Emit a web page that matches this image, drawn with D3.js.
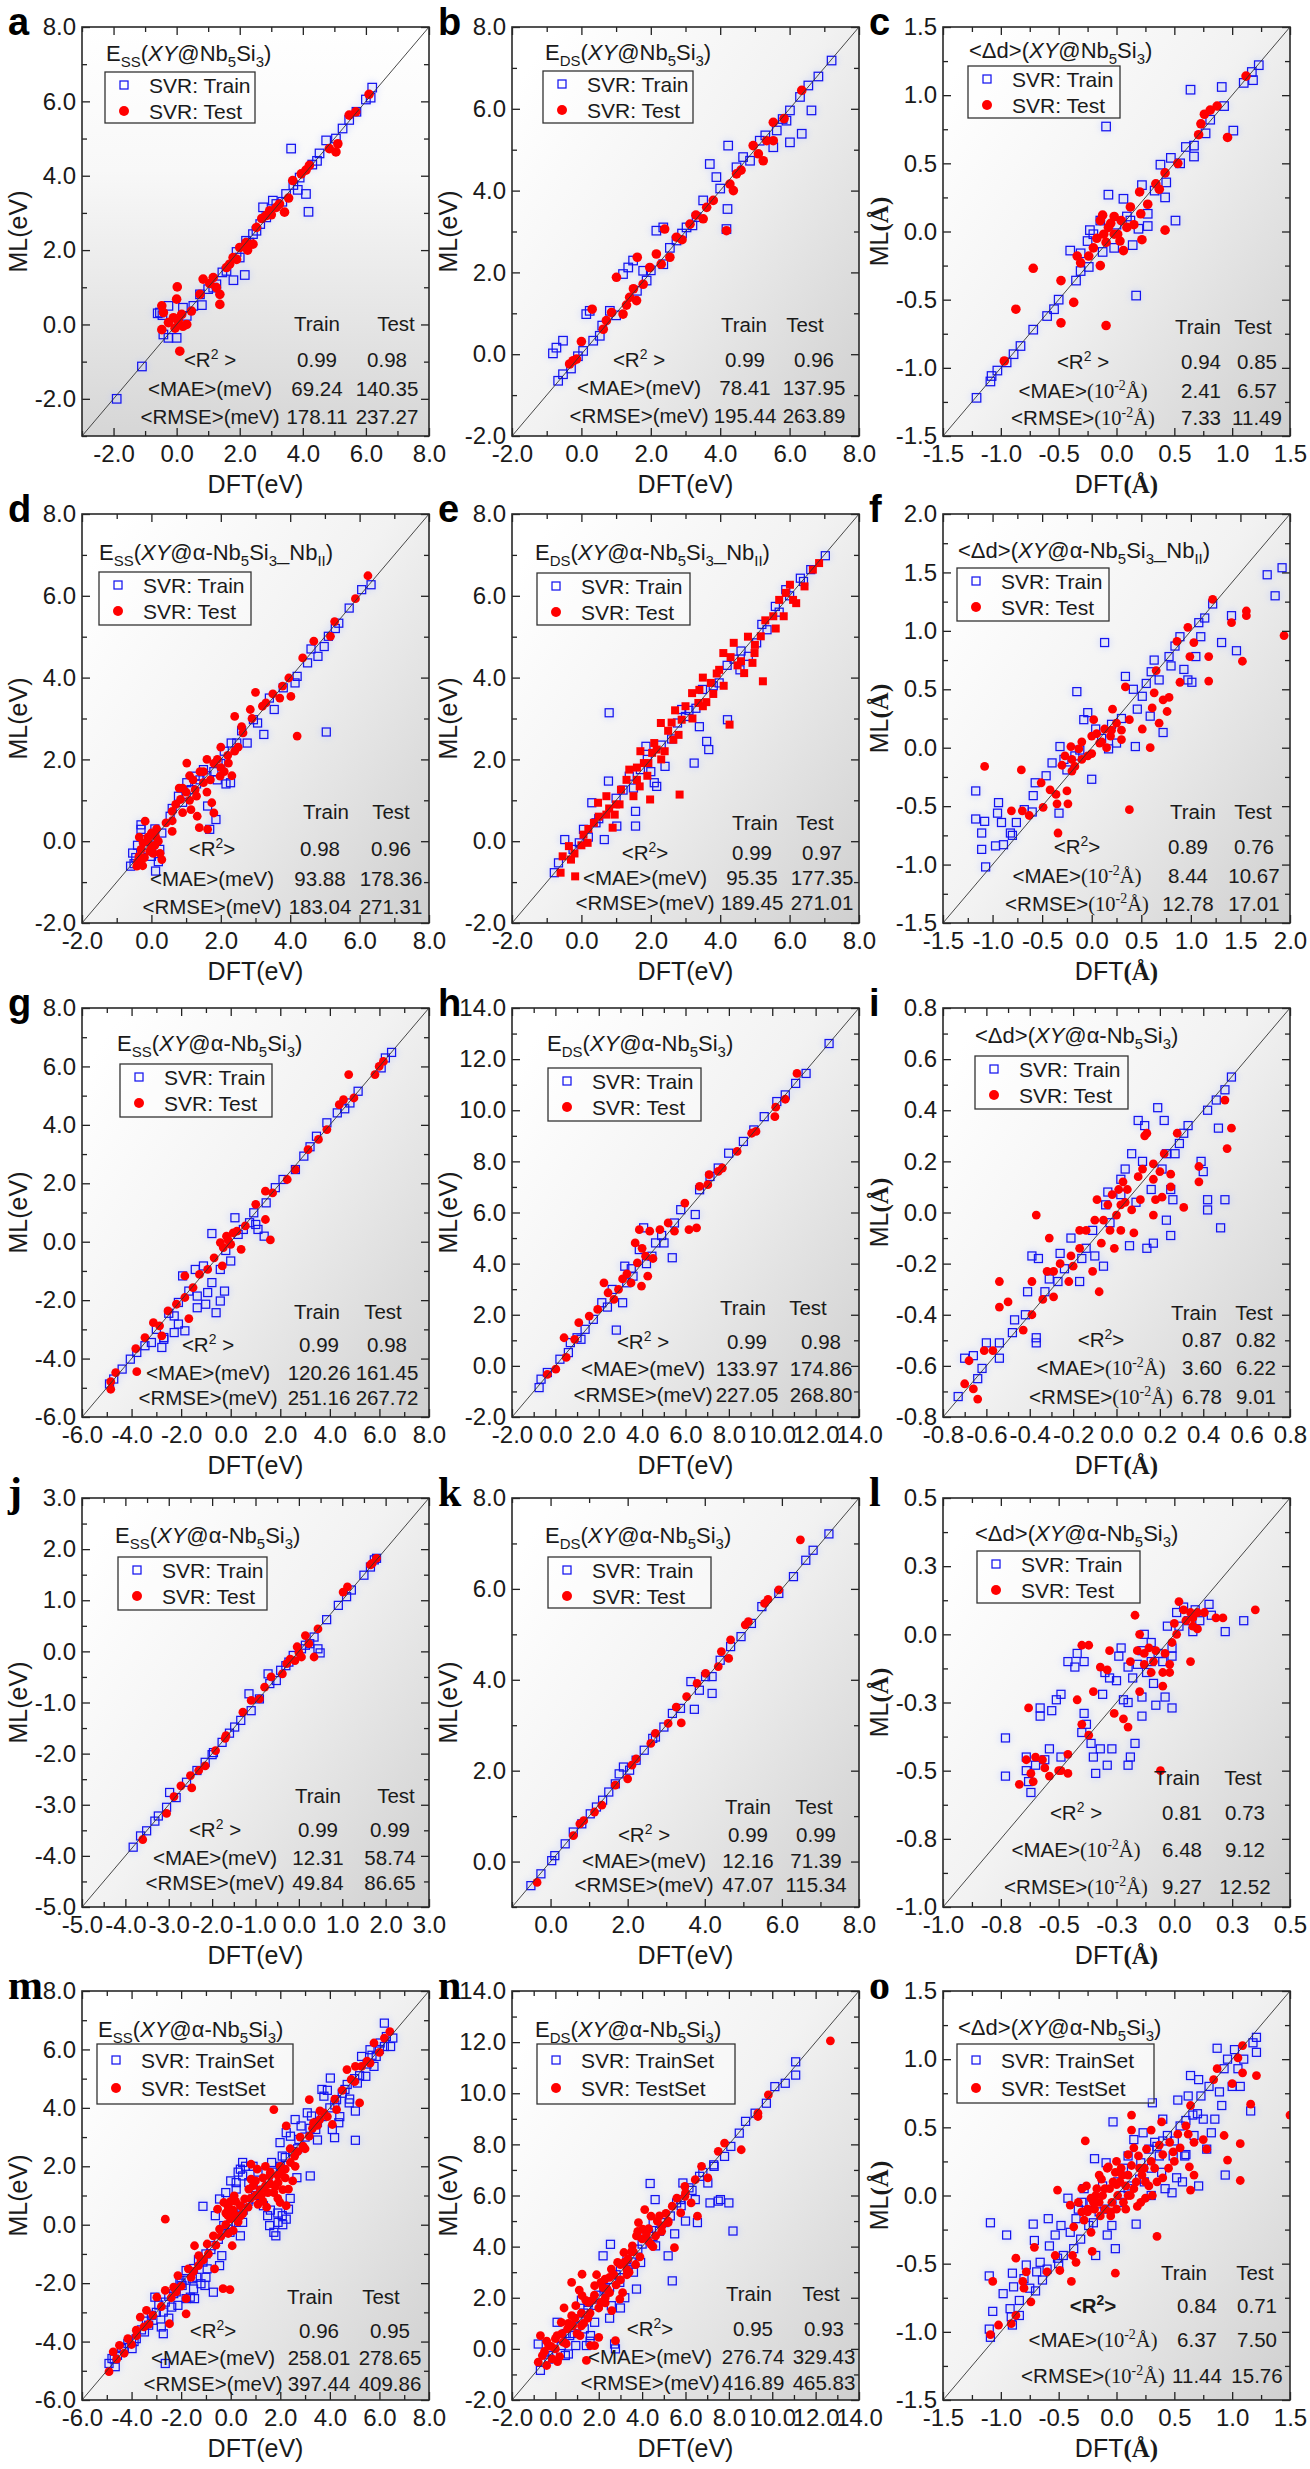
<!DOCTYPE html>
<html><head><meta charset="utf-8">
<script src="https://cdn.jsdelivr.net/npm/d3@7"></script>
<style>body{margin:0;background:#fff}</style>
</head><body><svg id="c" width="1310" height="2469"></svg>
<script>
// ---------------- DATA ----------------
const aTrain=[[-1.9,-2.0],[-1.1,-1.13],[-0.26,-0.36],[0,-0.36],[-0.53,0.32],[-0.26,0.5],[0.2,0.45],[0.8,0.52],[0.53,0.5],[1.8,1.19],[2.16,1.33],[1.16,0.99],[2.74,3.15],[3.63,4.73],[4.1,3.51],[4.18,3.03],[3.84,3.62],[6.2,6.37],[6.0,6.05],[5.26,5.27],[5.47,5.5],[4.74,4.95],[4.53,4.6],[4.3,4.3],[1.26,1.08],[1.58,1.44],[2.0,1.8],[2.42,2.43],[2.84,2.88],[3.16,3.24],[3.47,3.51],[2.2,2.25],[2.53,2.52],[3.05,3.33],[0.74,0.81],[0.32,0.23],[-0.42,-0.27],[-0.6,0.3],[-0.45,0.25],[1.0,0.95],[1.45,1.4],[1.9,1.95],[2.3,2.2],[2.65,2.7],[3.35,3.3],[3.7,3.75],[3.9,3.95],[4.45,4.4],[5.05,5.0],[5.7,5.72],[6.15,6.1]];
const aTest=[[-0.47,-0.14],[-0.47,0.5],[-0.42,0.32],[0.02,1.01],[0,0.68],[0.1,-0.72],[-0.26,0.05],[-0.1,0.18],[0.16,0.27],[0.32,0],[0.47,0.36],[0.74,0.81],[0.84,1.22],[1.16,1.26],[1.37,0.81],[1.37,0.54],[1.26,0.99],[1.68,1.62],[1.79,1.8],[2.0,2.07],[2.42,2.16],[2.53,2.61],[2.84,2.93],[3.16,3.15],[3.42,3.02],[3.26,3.24],[3.68,3.87],[3.95,4.05],[4.21,4.28],[4.84,4.73],[5.11,4.86],[5.05,4.64],[5.47,5.63],[5.68,5.72],[6.1,6.19],[2.2,2.2],[2.95,3.06],[1.58,1.53],[-0.05,-0.1],[0.05,0.1],[0.2,-0.05],[1.05,1.1],[1.9,1.75],[2.25,2.0],[2.7,2.85],[3.0,2.95],[3.55,3.4],[4.1,4.15]];
const aStats=["0.99","0.98","69.24","140.35","178.11","237.27"];

const bTrain=[[-0.82,0.02],[-0.72,0.16],[-0.53,0.33],[-0.67,-0.65],[-0.53,-0.49],[0.05,0.08],[0.14,0.98],[0.24,1.06],[0.34,0.33],[0.53,0.45],[0.82,1.06],[1.2,1.96],[1.35,2.12],[1.49,2.29],[1.78,2.04],[2.16,3.02],[2.36,3.1],[2.74,2.78],[3.03,3.1],[3.32,3.35],[3.51,3.76],[3.7,4.65],[3.89,4.33],[4.23,5.1],[4.21,3.55],[4.18,3.06],[4.66,4.82],[5.14,5.22],[5.53,5.06],[5.63,5.47],[6.01,5.18],[5.91,5.71],[6.01,5.96],[6.35,5.39],[6.63,5.96],[6.3,6.29],[6.54,6.57],[6.83,6.79],[7.21,7.18],[4.47,4.57],[4.86,4.73],[1.88,1.8],[2.36,2.2],[-0.3,-0.35],[-0.1,-0.05],[0.6,0.7],[1.0,0.95],[1.6,1.55],[2.0,2.05],[2.55,2.6],[2.9,2.95],[3.2,3.15],[4.0,4.05],[5.3,5.35],[5.8,5.75]];
const bTest=[[-0.34,-0.24],[-0.24,-0.16],[-0.14,-0.12],[0,0.31],[0.31,1.1],[0.63,0.61],[0.72,0.82],[0.87,1.02],[1.01,1.88],[1.2,0.98],[1.39,1.39],[1.59,1.31],[1.61,2.37],[1.78,1.71],[1.97,2.12],[2.16,2.45],[2.4,3.06],[2.55,2.37],[2.74,2.86],[3.13,3.18],[3.51,3.31],[3.61,3.59],[3.8,3.76],[4.18,3.02],[4.28,4.16],[4.38,4.0],[4.47,4.41],[4.95,5.1],[5.24,4.73],[5.34,5.22],[5.53,5.22],[5.53,5.67],[5.84,5.76],[6.35,6.45],[1.3,1.2],[1.5,1.6],[2.3,2.2],[2.9,2.8],[3.3,3.4],[4.6,4.5],[5.1,4.9]];
const bStats=["0.99","0.96","78.41","137.95","195.44","263.89"];

const cTrain=[[-1.21,-1.22],[-1.09,-1.1],[-1.08,-1.06],[-1.03,-1.02],[-0.89,-0.9],[-0.83,-0.84],[-0.72,-0.72],[-0.54,-0.57],[-0.5,-0.5],[-0.35,-0.36],[-0.31,-0.29],[-0.24,-0.26],[-0.4,-0.14],[-0.31,-0.16],[-0.25,-0.07],[-0.23,0.01],[-0.07,0.27],[0.06,0.24],[-0.09,0.77],[-0.02,-0.12],[0.14,-0.1],[0.17,-0.47],[0.19,0.02],[0.27,0.04],[0.27,0.13],[0.22,0.34],[0.42,0.25],[0.43,0.36],[0.51,0.08],[0.38,0.49],[0.47,0.54],[0.6,0.62],[0.67,0.55],[0.67,0.63],[0.77,0.72],[0.81,0.82],[0.93,0.92],[0.64,1.04],[0.91,1.06],[1.01,0.74],[1.1,1.09],[1.18,1.11],[1.17,1.17],[1.23,1.22],[-0.2,-0.02],[-0.14,0.08],[0.09,0.11],[-0.95,-0.96],[-0.6,-0.62],[-0.12,-0.15],[0.0,0.05],[0.12,0.08],[0.33,0.3],[0.55,0.5]];
const cTest=[[-0.97,-0.95],[-0.87,-0.57],[-0.72,-0.27],[-0.48,-0.36],[-0.37,-0.52],[-0.48,-0.67],[-0.09,-0.69],[-0.34,-0.18],[-0.31,-0.23],[-0.24,-0.18],[-0.2,-0.12],[-0.14,-0.25],[-0.14,0.08],[-0.11,-0.02],[-0.07,0.03],[-0.02,0.11],[0.01,-0.02],[0.06,-0.14],[0.09,0.03],[0.12,0.18],[0.21,0.13],[0.22,-0.06],[0.2,0.29],[0.27,0.2],[0.34,0.35],[0.37,0.31],[0.42,0.01],[0.42,0.43],[0.53,0.5],[0.71,0.71],[0.73,0.79],[0.76,0.86],[0.81,0.89],[0.87,0.92],[0.96,0.69],[1.12,1.14],[-0.02,-0.02],[0.03,-0.07],[-0.09,-0.08],[-0.05,0.06],[0.04,0.08],[-0.17,-0.05],[0.15,0.05],[-0.12,0.12]];
const cStats=["0.94","0.85","2.41","6.57","7.33","11.49"];

const dTrain=[[-0.6,-0.61],[-0.54,-0.29],[-0.3,0.29],[0,-0.37],[0.12,-0.73],[0.24,-0.2],[0.3,0.2],[0.54,0.61],[0.78,1.1],[1.02,1.43],[1.26,1.59],[1.5,1.75],[1.62,0.86],[1.86,0.53],[1.68,0.29],[1.92,1.91],[2.28,1.43],[2.46,2.4],[2.76,2.4],[3.24,2.61],[3.06,2.89],[3.54,3.22],[4.14,3.87],[4.2,4.03],[5.04,2.67],[4.98,4.76],[5.1,5.01],[5.4,5.33],[5.7,5.7],[6.06,6.15],[6.33,6.27],[4.8,4.52],[4.5,4.36],[2.94,2.97],[1.14,1.26],[-0.18,0.04],[-0.45,-0.4],[-0.1,-0.2],[0.9,0.95],[1.4,1.5],[1.8,1.7],[2.1,2.2],[2.6,2.7],[3.4,3.5],[3.8,3.75],[4.6,4.7],[5.3,5.2],
 [-0.5,-0.55],[-0.4,-0.1],[-0.2,-0.1],[0.05,0.1],[0.2,-0.5],[-0.3,0.4],[0.1,0.3],[0.6,0.8],[1.0,1.1],[1.3,1.4],[1.6,1.6],[2.0,1.9],[2.3,2.4],[1.9,1.5],[2.15,1.4]];
const dTest=[[-0.42,-0.61],[-0.36,-0.37],[-0.24,-0.04],[-0.18,0.49],[0,-0.16],[0.12,0.12],[0.3,-0.45],[0.42,0.45],[0.6,0.24],[0.6,0.73],[0.84,1.02],[1.02,1.91],[1.14,0.77],[1.32,0.61],[1.38,0.33],[1.62,0.29],[1.74,0.94],[1.8,0.69],[1.26,1.26],[1.5,1.43],[1.98,1.59],[2.22,1.91],[2.32,1.6],[2.4,3.05],[2.64,2.65],[2.85,3.22],[3.0,3.64],[3.3,3.38],[3.78,3.79],[3.96,3.99],[4.02,3.54],[4.2,2.57],[4.36,4.48],[4.68,4.89],[5.16,5.01],[5.28,5.37],[5.88,5.93],[6.24,6.49],[-0.3,-0.5],[-0.1,0.1],[0.05,-0.3],[0.9,1.3],[1.1,1.0],[1.4,1.7],[1.6,1.2],[1.9,2.0],[2.1,1.7],[2.5,2.3],
 [-0.4,-0.5],[-0.3,-0.2],[-0.2,-0.4],[-0.1,0.0],[0.0,0.2],[0.1,-0.1],[0.2,0.0],[-0.35,0.1],[-0.25,-0.6],[-0.05,-0.25],[0.15,0.3],[0.25,-0.3],[0.7,0.9],[0.9,0.7],[1.0,1.2],[1.2,1.5],[1.3,1.1],[1.5,1.7],[1.7,1.5],[1.8,1.9],[2.0,1.8],[2.2,2.1],[2.4,2.2],[0.6,0.5],[0.8,1.3],[1.1,1.6],[1.6,2.0],[2.0,2.3],[2.6,2.8],[2.9,3.0],[3.2,3.3],[3.5,3.6],[3.7,3.5]];
const dStats=["0.98","0.96","93.88","178.36","183.04","271.31"];

const eTrain=[[-0.78,-0.77],[-0.66,-0.53],[-0.48,0.04],[0.06,0.29],[0.3,0.94],[0.42,0.45],[0.66,0.04],[0.78,1.47],[0.8,3.14],[1.02,0.37],[1.38,1.59],[1.56,0.73],[1.56,0.37],[1.86,2.32],[2.1,1.43],[-0.24,-0.2],[-0.06,-0.04],[2.17,1.34],[2.41,1.83],[2.77,2.89],[3.25,1.91],[3.61,2.44],[3.67,2.24],[4.21,2.97],[3.49,3.71],[3.97,3.87],[4.57,4.19],[4.81,4.52],[5.35,5.17],[5.59,5.74],[5.89,6.15],[6.31,6.43],[6.61,6.64],[7.03,6.98],[2.89,3.22],[5.05,4.85],[0.5,0.55],[1.2,1.25],[1.7,1.75],[2.3,2.35],[3.0,3.05],[3.3,3.25],[4.4,4.45],[5.7,5.6],
 [0.2,0.1],[1.0,1.05],[1.9,2.0],[2.6,2.5],[3.1,3.2],[3.8,3.8],[4.2,4.3],[4.6,4.65],[5.2,5.3],[6.0,6.0],[6.4,6.35],[1.5,1.3],[2.0,1.7],[3.4,2.8]];
const eTest=[[-0.6,-0.77],[-0.54,-0.37],[-0.36,-0.12],[-0.18,-0.86],[-0.3,-0.45],[0.06,0.16],[0.18,-0.04],[0.36,0.45],[0.48,0.94],[0.72,1.1],[0.72,0.65],[0.9,0.33],[0.96,0.65],[1.14,1.26],[1.38,1.75],[1.5,1.1],[1.68,1.34],[1.8,1.91],[1.98,1.02],[2.04,2.16],[2.29,2.89],[2.65,2.48],[2.89,2.97],[3.19,3.62],[3.37,3.38],[3.73,3.87],[3.97,4.19],[4.27,2.85],[4.09,4.6],[4.39,4.85],[4.69,4.11],[4.93,4.36],[4.99,4.6],[5.23,3.91],[5.17,5.01],[5.53,5.5],[5.83,5.5],[5.89,6.07],[6.01,6.27],[6.19,5.82],[6.43,6.23],[6.67,6.64],[6.85,6.8],[2.17,2.24],[1.93,1.91],[2.83,1.14],[1.6,1.5],[2.4,2.2],[3.5,3.3],[4.5,4.3],[1.0,0.9],[2.6,2.9],[3.8,3.6],
 [0.2,0.3],[0.5,0.6],[0.8,0.8],[1.1,0.9],[1.3,1.5],[1.6,1.8],[1.9,1.6],[2.1,2.4],[2.3,2.0],[2.5,2.7],[2.8,2.6],[3.0,3.3],[3.2,3.0],[3.4,3.7],[3.6,3.4],[3.9,4.1],[4.1,3.8],[4.3,4.5],[4.6,4.4],[4.8,5.0],[5.0,4.8],[5.3,5.4],[5.6,5.2],[5.7,5.9],[6.1,5.9],[-0.2,-0.3],[0.0,-0.1],[1.7,2.2],[2.7,3.2],[3.5,4.0]];
const eStats=["0.99","0.97","95.35","177.35","189.45","271.01"];

const fTrain=[[-1.17,-0.37],[-1.17,-0.61],[-1.08,-0.63],[-1.11,-0.73],[-1.11,-0.87],[-1.07,-1.02],[-0.97,-0.84],[-0.95,-0.56],[-0.94,-0.47],[-0.91,-0.64],[-0.89,-0.83],[-0.82,-0.73],[-0.76,-0.64],[-0.68,-0.53],[-0.59,-0.41],[-0.57,-0.3],[-0.46,-0.24],[-0.4,-0.13],[-0.32,0.01],[-0.33,-0.56],[-0.25,-0.19],[-0.15,0.48],[-0.08,0.24],[-0.04,0.3],[0,-0.27],[0.13,0.9],[0.17,-0.01],[0.25,0.04],[0.34,0.61],[0.42,0.5],[0.46,0.33],[0.51,0.44],[0.44,0.01],[0.59,0.27],[0.63,0.75],[0.68,0.58],[0.72,0.13],[0.78,0.78],[0.84,0.87],[0.89,0.95],[0.93,0.67],[0.97,0.58],[1.01,0.56],[1.05,0.78],[1.08,1.07],[1.14,1.11],[1.22,1.23],[1.31,0.9],[1.41,1.13],[1.46,0.83],[1.77,1.48],[1.92,1.54],[1.85,1.3],[-0.17,-0.07],[0.04,0.16],[-0.28,-0.1],[-0.12,-0.02],[0.1,0.08],[0.3,0.25],[0.55,0.55],
 [0.2,0.2],[0.6,0.65],[0.8,0.7],[1.1,0.95],[-0.6,-0.55],[-0.8,-0.75]];
const fTest=[[-1.08,-0.16],[-0.71,-0.19],[-0.81,-0.54],[-0.7,-0.54],[-0.63,-0.58],[-0.51,-0.3],[-0.49,-0.51],[-0.42,-0.36],[-0.36,-0.4],[-0.34,-0.73],[-0.35,-0.48],[-0.25,-0.37],[-0.24,-0.48],[-0.27,-0.07],[-0.21,0.01],[-0.17,-0.16],[-0.13,-0.01],[-0.04,-0.07],[0.02,0.24],[0.08,0.04],[0.13,0.16],[0.19,0.1],[0.21,0.33],[0.25,0.21],[0.3,0.07],[0.34,0.52],[0.38,0.24],[0.38,-0.53],[0.51,0.16],[0.61,0.34],[0.59,0],[0.65,0.66],[0.63,0.47],[0.68,0.21],[0.72,0.41],[0.76,0.31],[0.78,0.43],[0.89,0.56],[0.86,0.91],[0.97,1.03],[0.99,0.78],[1.03,0.9],[1.18,0.78],[1.18,0.57],[1.22,1.27],[1.41,1.07],[1.52,0.74],[1.56,1.13],[1.56,1.17],[1.94,0.96],[-0.2,-0.1],[-0.1,0.05],[0.0,-0.05],[0.05,0.12],[0.15,0.0],[-0.3,-0.15],
 [-0.1,-0.1],[0.1,0.05],[0.2,0.15],[-0.2,-0.2],[0.3,0.15],[0.0,0.1]];
const fStats=["0.89","0.76","8.44","10.67","12.78","17.01"];

const gTrain=[[-4.89,-4.87],[-4.72,-4.7],[-4.38,-4.36],[-4.05,-4.02],[-3.79,-3.79],[-3.46,-3.56],[-3.2,-3.45],[-2.78,-3.62],[-2.7,-3.34],[-2.28,-3.11],[-2.11,-2.82],[-1.85,-3.05],[-2.28,-2.54],[-2.11,-2.08],[-1.94,-1.17],[-1.69,-1.69],[-1.35,-1.86],[-1.35,-2.26],[-1.01,-2.14],[-0.93,-1.74],[-0.59,-2.43],[-0.42,-2.03],[-0.25,-1.69],[-0.76,-1.4],[-0.76,0.28],[-1.43,-0.95],[-1.1,-0.83],[-0.42,-0.95],[0,-0.66],[0.17,0.82],[0.51,0.42],[0.76,0.65],[1.01,0.59],[1.1,0.42],[1.35,0.19],[0.93,0.99],[1.43,1.33],[2.11,2.13],[2.61,2.47],[2.95,2.93],[3.46,3.61],[3.88,4.07],[4.3,4.41],[4.81,4.75],[5.14,5.15],[6.07,5.95],[6.49,6.48],[6.24,6.29],[-2.7,-3.28],[-0.2,-0.3],[0.3,0.25],[1.8,1.85],[3.2,3.25],[4.6,4.55],[-3.0,-3.0],[-2.5,-2.45]];
const gTest=[[-4.84,-5.05],[-4.84,-4.79],[-4.64,-4.48],[-3.79,-4.45],[-3.83,-3.66],[-3.46,-3.28],[-3.12,-2.77],[-2.87,-2.88],[-2.78,-3.22],[-2.53,-2.37],[-2.19,-2.14],[-1.85,-1.91],[-1.69,-2.63],[-1.85,-1.17],[-1.52,-1.57],[-1.26,-1.12],[-0.93,-0.95],[-0.67,-0.55],[-0.34,-0.83],[-0.42,-0.03],[-0.17,0.19],[0,-0.09],[0.25,0.36],[0.42,-0.26],[0.59,0.54],[1.01,1.28],[1.4,0.76],[1.6,0.06],[1.4,1.73],[1.69,1.67],[2.28,2.13],[2.61,2.47],[3.12,3.15],[3.54,3.5],[3.88,3.84],[4.38,4.69],[4.55,4.86],[4.97,4.92],[4.76,5.72],[5.82,5.72],[5.99,6.0],[6.16,6.17],[-0.1,0.05],[0.1,0.3],[-0.3,-0.2]];
const gStats=["0.99","0.98","120.26","161.45","251.16","267.72"];

const hTrain=[[-0.75,-0.85],[-0.66,-0.52],[-0.37,-0.26],[0.21,0.26],[0.6,0.52],[0.69,0.91],[1.18,1.04],[1.37,1.43],[1.75,1.82],[2.14,2.47],[2.81,1.4],[2.62,2.99],[3.1,2.47],[3.29,3.25],[3.2,3.9],[3.58,3.51],[4.07,5.4],[3.87,4.55],[4.45,4.29],[4.62,4.81],[5.01,4.81],[5.39,4.23],[5.49,5.59],[5.78,6.11],[6.45,5.92],[6.65,6.89],[7.13,7.41],[7.51,7.74],[7.99,8.32],[8.67,8.78],[9.15,9.23],[9.63,9.75],[10.21,10.34],[10.6,10.6],[11.08,11.05],[12.62,12.61],[11.56,11.44],[1.0,1.1],[2.4,2.3],[3.5,3.8],[4.2,4.0],[4.9,5.1]];
const hTest=[[-0.37,-0.33],[0.02,-0.13],[0.5,0.33],[0.4,1.1],[0.89,1.04],[1.08,1.69],[1.56,1.95],[1.95,2.21],[2.24,3.25],[2.43,2.86],[2.91,2.99],[3.49,3.25],[3.68,4.81],[3.97,3.12],[3.87,5.33],[4.35,5.27],[4.26,3.51],[3.78,4.03],[4.16,4.29],[4.82,5.33],[5.2,5.59],[5.49,5.27],[5.97,6.37],[6.16,5.33],[6.51,5.4],[6.65,7.02],[7.03,7.09],[7.09,7.48],[7.51,7.61],[7.7,7.74],[8.38,8.39],[9.25,9.17],[10.12,9.75],[10.16,10.12],[10.6,10.43],[11.14,11.44],[9.05,9.1],[3.3,3.6],[4.0,4.6],[4.5,4.2],[2.7,2.6],[3.1,3.4]];
const hStats=["0.99","0.98","133.97","174.86","227.05","268.80"];

const iTrain=[[-0.73,-0.72],[-0.7,-0.57],[-0.66,-0.56],[-0.64,-0.65],[-0.62,-0.61],[-0.6,-0.51],[-0.54,-0.57],[-0.54,-0.51],[-0.48,-0.47],[-0.47,-0.42],[-0.42,-0.4],[-0.41,-0.31],[-0.39,-0.17],[-0.37,-0.51],[-0.37,-0.49],[-0.36,-0.18],[-0.33,-0.31],[-0.31,-0.26],[-0.27,-0.27],[-0.26,-0.16],[-0.24,-0.22],[-0.21,-0.1],[-0.17,-0.27],[-0.16,-0.18],[-0.14,-0.14],[-0.11,-0.07],[-0.1,-0.17],[-0.06,-0.21],[-0.05,0.03],[-0.04,0.08],[-0.03,-0.04],[0.02,0.13],[0.02,0.07],[0.04,0.17],[0.06,-0.13],[0.07,0.23],[0.09,0.04],[0.1,0.36],[0.12,0.2],[0.13,0.34],[0.14,-0.14],[0.16,0.09],[0.17,-0.12],[0.19,0.41],[0.21,0.17],[0.22,0.36],[0.23,0.23],[0.23,-0.03],[0.25,0.09],[0.25,-0.09],[0.26,0.05],[0.27,0.23],[0.29,0.27],[0.31,0.31],[0.33,0.34],[0.39,0.2],[0.4,0.16],[0.42,0.05],[0.42,0.01],[0.42,0.4],[0.46,0.44],[0.47,0.33],[0.48,-0.06],[0.5,0.05],[0.5,0.48],[0.53,0.53]];
const iTest=[[-0.68,-0.58],[-0.7,-0.67],[-0.66,-0.69],[-0.64,-0.73],[-0.61,-0.54],[-0.57,-0.54],[-0.54,-0.37],[-0.54,-0.27],[-0.5,-0.35],[-0.43,-0.46],[-0.39,-0.4],[-0.39,-0.27],[-0.37,-0.01],[-0.34,-0.34],[-0.32,-0.23],[-0.31,-0.1],[-0.29,-0.33],[-0.29,-0.23],[-0.26,-0.2],[-0.22,-0.27],[-0.21,-0.17],[-0.2,-0.21],[-0.17,-0.14],[-0.17,-0.07],[-0.14,-0.07],[-0.11,-0.23],[-0.1,-0.03],[-0.09,0.05],[-0.08,-0.31],[-0.07,-0.12],[-0.06,-0.03],[-0.04,0.03],[-0.03,-0.07],[-0.02,0.07],[-0.01,-0.14],[0,-0.01],[0.01,0.09],[0.02,0.03],[0.02,-0.07],[0.03,0.12],[0.04,0.04],[0.05,0.09],[0.07,0.01],[0.08,-0.08],[0.1,0.14],[0.11,0.05],[0.12,0.17],[0.13,0.3],[0.14,0.31],[0.17,0.13],[0.17,0.19],[0.18,0.05],[0.17,-0.01],[0.2,0.16],[0.21,0.06],[0.22,0.23],[0.25,0.1],[0.25,0.15],[0.28,0.31],[0.31,0.02],[0.38,0.18],[0.38,0.12],[0.5,0.44],[0.51,0.25],[0.53,0.33]];
const iStats=["0.87","0.82","3.60","6.22","6.78","9.01"];

const jTrain=[[-3.82,-3.83],[-3.65,-3.61],[-3.51,-3.51],[-3.32,-3.32],[-3.24,-3.22],[-3.05,-3.05],[-2.98,-2.76],[-2.83,-2.86],[-2.59,-2.56],[-2.35,-2.33],[-2.16,-2.17],[-1.97,-1.98],[-1.77,-1.78],[-1.48,-1.48],[-1.34,-1.35],[-1.15,-0.83],[-1.1,-1.16],[-0.91,-0.93],[-0.71,-0.44],[-0.67,-0.63],[-0.52,-0.57],[-0.42,-0.37],[-0.23,-0.21],[-0.13,-0.08],[0.06,0.05],[0.25,0.15],[0.44,0.05],[0.49,-0.03],[0.35,0.28],[0.64,0.62],[0.91,0.9],[1.1,1.07],[1.21,1.2],[1.5,1.49],[1.65,1.65],[1.74,1.79],[1.79,1.82],[-2.0,-2.02],[-1.6,-1.6],[-0.3,-0.28],[0.15,0.12]];
const jTest=[[-3.6,-3.68],[-3.05,-3.17],[-2.88,-2.84],[-2.72,-2.63],[-2.5,-2.43],[-2.47,-2.67],[-2.31,-2.33],[-2.16,-2.24],[-1.92,-1.94],[-1.68,-1.65],[-1.29,-1.19],[-1.1,-0.96],[-0.91,-0.93],[-0.79,-0.7],[-0.64,-0.5],[-0.38,-0.44],[-0.28,-0.24],[-0.09,-0.18],[-0.04,0.09],[0.06,-0.11],[0.15,0.31],[0.23,0.15],[0.35,-0.11],[0.44,0.44],[1.02,1.16],[1.12,1.26],[1.65,1.69],[1.79,1.82],[1.69,1.72],[-1.7,-1.7],[-0.2,-0.15],[0.0,-0.02]];
const jStats=["0.99","0.99","12.31","58.74","49.84","86.65"];

const kTrain=[[-0.51,-0.53],[-0.25,-0.27],[0.03,0.02],[0.11,0.13],[0.38,0.39],[0.59,0.65],[0.81,0.83],[1.03,1.05],[1.19,1.2],[1.35,1.35],[1.51,1.53],[1.68,1.71],[1.78,1.93],[1.89,2.08],[2.05,2.01],[2.22,2.23],[2.43,2.45],[2.65,2.71],[2.72,2.74],[2.94,2.96],[3.16,3.26],[3.37,3.37],[3.73,3.35],[3.64,3.96],[3.86,3.77],[4.02,4.07],[4.19,3.7],[4.19,4.07],[4.4,4.43],[4.67,4.73],[4.94,4.95],[5.21,5.24],[5.48,5.61],[5.92,5.9],[6.3,6.27],[6.62,6.63],[6.81,6.85],[7.22,7.21]];
const kTest=[[-0.35,-0.46],[0.59,0.57],[0.76,0.83],[0.86,0.9],[1.14,1.09],[1.33,1.24],[1.68,1.68],[2.0,1.82],[2.11,2.12],[2.22,2.26],[2.6,2.6],[2.72,2.82],[3.05,3.04],[3.26,3.4],[3.39,3.05],[3.53,3.63],[3.8,3.92],[4.02,4.14],[4.35,4.29],[4.43,4.62],[4.62,4.47],[4.67,4.88],[5.05,5.21],[5.13,5.28],[5.55,5.68],[5.64,5.77],[5.92,5.98],[6.48,7.08]];
const kStats=["0.99","0.99","12.16","71.39","47.07","115.34"];

const lTrain=[[-0.73,-0.38],[-0.73,-0.52],[-0.64,-0.45],[-0.64,-0.5],[-0.63,-0.54],[-0.62,-0.58],[-0.6,-0.48],[-0.58,-0.27],[-0.58,-0.3],[-0.56,-0.46],[-0.53,-0.28],[-0.51,-0.24],[-0.49,-0.22],[-0.54,-0.42],[-0.49,-0.45],[-0.46,-0.1],[-0.43,-0.12],[-0.42,-0.07],[-0.39,-0.1],[-0.4,-0.36],[-0.39,-0.29],[-0.38,-0.33],[-0.36,-0.4],[-0.35,-0.45],[-0.34,-0.51],[-0.32,-0.42],[-0.31,-0.22],[-0.3,-0.14],[-0.29,-0.48],[-0.28,-0.16],[-0.27,-0.42],[-0.25,-0.17],[-0.24,-0.08],[-0.23,-0.05],[-0.22,-0.24],[-0.2,-0.12],[-0.2,-0.25],[-0.2,-0.48],[-0.19,-0.45],[-0.18,-0.16],[-0.17,-0.4],[-0.16,-0.11],[-0.14,-0.06],[-0.14,-0.23],[-0.14,-0.3],[-0.13,0],[-0.12,-0.14],[-0.1,-0.1],[-0.1,-0.03],[-0.09,-0.18],[-0.08,-0.26],[-0.07,-0.07],[-0.05,-0.1],[-0.04,-0.23],[-0.03,0.03],[-0.01,-0.27],[-0.01,-0.05],[-0.01,-0.08],[0.01,0.08],[0.02,0.03],[0.04,0.1],[0.06,0.05],[0.08,0.01],[0.09,0.09],[0.11,0.05],[0.15,0.11],[0.16,0.07],[0.22,0.01],[0.3,0.05]];
const lTest=[[-0.67,-0.55],[-0.64,-0.46],[-0.63,-0.27],[-0.62,-0.51],[-0.61,-0.54],[-0.6,-0.45],[-0.57,-0.46],[-0.56,-0.49],[-0.54,-0.52],[-0.5,-0.5],[-0.49,-0.5],[-0.46,-0.44],[-0.46,-0.51],[-0.42,-0.24],[-0.4,-0.04],[-0.37,-0.04],[-0.4,-0.33],[-0.37,-0.37],[-0.35,-0.21],[-0.32,-0.12],[-0.29,-0.13],[-0.28,-0.06],[-0.26,-0.29],[-0.22,-0.31],[-0.2,-0.34],[-0.19,-0.1],[-0.17,0.07],[-0.16,-0.06],[-0.15,0],[-0.15,-0.21],[-0.13,-0.07],[-0.13,-0.11],[-0.11,-0.05],[-0.1,-0.14],[-0.09,-0.1],[-0.08,-0.06],[-0.06,-0.5],[-0.05,-0.14],[-0.05,-0.19],[-0.04,-0.07],[-0.02,-0.11],[-0.02,-0.14],[-0.01,-0.03],[0,0.04],[0.01,0],[0.02,0.12],[0.04,0.09],[0.05,0.05],[0.07,0.08],[0.08,0.03],[0.08,0.06],[0.1,0.02],[0.1,0.08],[0.07,-0.1],[0.13,0.08],[0.18,0.06],[0.21,0.06],[0.35,0.09]];
const lStats=["0.81","0.73","6.48","9.12","9.27","12.52"];

const mTrain=[[-4.91,-4.75],[-4.79,-4.58],[-4.66,-4.86],[-4.57,-4.47],[-4.4,-4.24],[-4.15,-4.07],[-3.98,-4.24],[-3.81,-3.9],[-3.48,-3.67],[-3.31,-3.44],[-3.14,-3.27],[-3.06,-2.48],[-2.8,-3.5],[-2.72,-2.99],[-2.64,-2.65],[-2.38,-2.82],[-2.3,-2.36],[-2.13,-2.76],[-2.05,-1.91],[-1.96,-2.08],[-1.8,-1.57],[-1.55,-1.85],[-1.46,-2.53],[-1.37,-1.8],[-1.2,-2.02],[-1.12,-1.28],[-1.04,-2.08],[-0.95,-1.51],[-0.7,-2.31],[-0.45,-1.4],[-0.36,-1.06],[-0.62,0.31],[-0.45,0.88],[-1.12,0.63],[-0.78,-0.72],[-0.28,-0.03],[-0.11,-0.15],[-0.03,-0.26],[0.22,0.08],[0.39,-0.38],[0.48,0.08],[0.22,1.22],[0.22,1.44],[0.48,1.67],[0.48,2.13],[0.39,1.9],[0.73,1.44],[0.9,0.88],[1.23,1.44],[1.32,0.65],[1.49,0.31],[1.57,-0.03],[1.65,2.13],[1.74,-0.26],[1.82,-0.38],[1.91,0.08],[2.08,0.31],[2.24,0.19],[2.33,0.53],[2.08,2.35],[1.99,2.81],[2.24,3.15],[2.41,3.03],[2.67,1.61],[2.75,2.92],[2.84,3.38],[3.21,1.67],[3.09,3.83],[3.26,3.72],[3.43,3.26],[3.68,4.63],[3.76,4.4],[4.02,5.02],[4.1,3.26],[4.19,2.98],[4.36,3.49],[4.27,4.28],[4.61,4.63],[4.78,4.17],[5.03,3.89],[5.03,2.89],[5.11,4.85],[5.28,5.76],[5.45,5.08],[5.62,5.99],[5.78,5.42],[5.87,5.76],[6.03,6.22],[6.2,6.9],[6.28,6.44],[6.54,6.39],[6.45,6.1],[-2.72,-3.73],[-2.64,-4.75],[-1.8,-2.53],[-1.63,-2.48],[-4.0,-3.95],[-3.6,-3.6],[-3.0,-3.0],[-2.5,-2.45],[-2.0,-2.0],[-1.5,-1.5],[-1.0,-1.0],[-0.5,-0.5],[0,0],[0.5,0.5],[1.0,1.0],[1.5,1.5],[2.0,2.0],[2.5,2.5],[3.0,3.0],[3.5,3.5],[4.0,4.0],[4.5,4.5],[5.0,5.0],[5.5,5.5],[6.0,6.0],[0.1,0.6],[0.9,2.0],[1.1,1.8],[2.6,3.6],[3.9,4.6],
 [-4.7,-4.6],[-4.3,-4.2],[-3.9,-4.0],[-3.4,-3.3],[-3.2,-3.1],[-2.9,-2.75],[-2.2,-2.3],[-1.8,-1.9],[-1.3,-1.2],[-0.8,-0.85],[-0.3,-0.2],[0.2,0.3],[0.7,0.8],[1.2,1.1],[1.7,1.8],[2.2,2.3],[2.7,2.6],[3.2,3.3],[3.7,3.7],[4.2,4.1],[4.7,4.8],[5.2,5.1],[5.7,5.8],[6.2,6.1],[0.3,1.8],[0.0,1.5],[-0.2,1.1],[0.6,2.0],[1.9,0.4],[2.1,0.0],[2.4,0.9],[1.6,0.5],[-1.5,-2.2],[-1.0,-1.8],[-2.5,-3.2],[4.4,3.7],[4.8,4.3],[3.5,2.9]];
const mTest=[[-4.91,-5.03],[-4.74,-4.35],[-4.49,-4.13],[-4.15,-3.9],[-3.81,-3.61],[-3.65,-3.16],[-3.4,-2.93],[-3.14,-3.1],[-2.98,-2.48],[-2.64,-2.25],[-2.64,0.19],[-2.47,-3.39],[-2.3,-2.14],[-2.13,-1.74],[-1.8,-2.53],[-1.8,-3.05],[-1.71,-1.51],[-1.46,-0.72],[-1.29,-1.06],[-1.2,-1.23],[-0.95,-0.66],[-0.7,-0.38],[-0.65,-1.51],[-0.31,-2.19],[-0.03,-2.22],[-0.53,0.53],[-0.45,-0.15],[-0.28,0.76],[-0.11,0.31],[-0.03,0.53],[0.06,-0.72],[0.14,0.99],[0.22,0.31],[0.39,0.65],[0.56,0.88],[0.73,1.22],[0.82,1.56],[0.9,1.33],[1.07,1.9],[1.23,0.99],[1.4,1.33],[1.57,1.67],[1.74,1.1],[1.91,1.44],[1.99,0.76],[2.08,1.84],[2.33,1.22],[2.24,0.65],[2.41,2.13],[2.58,2.35],[2.92,2.69],[3.17,3.03],[3.17,4.28],[3.34,3.49],[3.59,3.6],[3.76,3.83],[4.1,3.43],[4.27,3.94],[4.69,5.31],[4.86,4.97],[5.03,5.42],[5.2,4.17],[5.28,5.42],[5.62,5.53],[5.78,6.22],[6.2,6.39],[6.42,6.61],[1.74,3.94],[0.82,2.07],[2.24,3.38],[-0.2,0.0],[0.0,0.2],[0.1,0.5],[-0.1,-0.3],[0.3,0.1],[0.5,0.4],[0.7,0.6],[1.0,1.0],[1.1,0.7],[1.3,1.6],[1.5,1.1],[1.6,1.8],[1.8,1.3],[2.0,2.0],[2.2,1.6],[2.4,2.6],[2.6,2.0],[2.8,3.0],[3.0,2.6],[3.3,3.3],[3.6,3.9],[3.9,3.7],[4.2,4.3],[-0.6,-0.7],[-0.9,-1.0],[-1.3,-1.4],[-1.6,-1.8],[-2.0,-2.1],[-2.4,-2.5],[-2.8,-2.8],[-3.3,-3.4],[-3.8,-3.8],[-4.3,-4.4],[-4.6,-4.6],[1.2,1.2],[1.45,0.6],[1.9,0.9],[2.1,1.2],[0.0,0.8],[-0.2,0.4],
 [1.3,0.8],[1.6,1.4],[1.9,1.7],[2.2,1.9],[2.5,1.5],[1.0,1.5],[1.4,2.0],[0.2,0.8],[0.4,0.3],[-0.1,0.6],[0.1,-0.2],[-0.4,-0.4],[0.8,0.9],[2.7,2.5],[3.5,3.4],[4.5,4.6],[5.0,4.9],[5.5,5.6],[6.0,5.9],[-3.5,-3.5],[-4.0,-4.1],[-1.1,-1.2],[-1.5,-1.6],[-2.2,-2.3]];
const mStats=["0.96","0.95","258.01","278.65","397.44","409.86"];

const nTrain=[[-0.69,-0.84],[-0.79,0.19],[-0.5,-0.52],[-0.31,-0.13],[-0.12,-0.26],[0.08,1.04],[0.27,0.13],[0.46,-0.26],[0.66,0.52],[0.94,0.13],[1.04,1.17],[1.33,0.78],[1.52,1.82],[1.62,0.52],[1.81,1.04],[2.0,1.95],[2.2,3.64],[2.24,2.34],[2.58,1.69],[2.54,4.09],[2.77,0],[2.97,2.6],[3.35,3.12],[3.74,2.34],[3.93,3.38],[4.37,6.47],[4.6,5.84],[4.12,4.42],[4.51,4.94],[2.73,0.19],[1.43,0.13],[4.62,4.03],[5.01,4.94],[5.2,3.64],[5.59,5.71],[5.78,5.84],[6.16,6.3],[6.45,5.84],[6.55,4.94],[6.65,6.75],[7.03,6.49],[7.13,5.71],[7.51,5.78],[7.61,5.84],[8.0,5.71],[8.19,4.61],[7.32,7.14],[7.8,7.53],[8.09,7.92],[8.48,8.44],[8.77,8.9],[9.21,9.22],[9.73,9.61],[10.12,10.26],[11.08,11.23],[11.08,10.71],[10.6,10.39],[5.39,2.66],[5.88,6.49],[0.5,0.6],[1.0,0.9],[1.5,1.6],[2.0,2.1],[2.5,2.4],[3.0,3.1],[3.5,3.4],[4.0,4.1],[4.5,4.4],[5.0,5.1],[3.2,2.0],[3.6,3.0],[1.2,1.9],
 [-0.3,-0.4],[0.3,0.4],[0.8,0.6],[1.3,1.4],[1.8,1.7],[2.3,2.4],[2.8,2.9],[3.3,3.5],[3.8,3.9],[4.3,4.5],[4.8,4.6],[5.3,5.2],[5.8,5.6],[6.3,6.2],[6.8,6.9],[7.3,7.2],[2.5,1.2],[3.0,1.6],[1.6,0.3],[0.6,-0.2],[5.5,4.5],[6.0,5.0]];
const nTest=[[-0.79,-0.52],[-0.69,0.52],[-0.6,-0.26],[-0.4,-0.65],[-0.31,0.13],[-0.15,-0.39],[0.08,0.52],[0.27,1.04],[0.37,0.26],[0.56,0.78],[0.75,1.3],[0.75,2.6],[0.94,1.69],[1.14,0.52],[1.23,2.08],[1.23,2.92],[1.43,-0.45],[1.52,1.82],[1.62,0.13],[1.81,2.47],[1.81,0.13],[2.0,0.45],[2.1,1.82],[2.29,2.73],[2.39,2.34],[2.58,3.12],[2.77,0.32],[2.87,3.38],[2.97,1.95],[3.16,3.77],[3.35,3.51],[3.55,4.03],[3.74,4.42],[3.83,4.94],[4.03,4.68],[4.12,5.45],[4.41,5.19],[4.62,4.42],[4.91,4.81],[5.2,4.94],[5.39,5.58],[5.49,3.96],[5.78,5.32],[5.97,6.36],[5.97,5.97],[6.26,5.71],[6.45,6.62],[6.55,5.19],[6.74,7.14],[7.03,6.69],[7.51,7.73],[7.8,8.05],[8.57,7.79],[9.34,9.22],[9.34,9.09],[9.82,9.94],[12.68,12.05],[0.5,0.2],[0.8,0.9],[1.0,0.6],[1.2,1.4],[1.5,1.2],[1.7,1.9],[2.0,1.6],[2.2,2.4],[2.5,2.2],[2.7,2.9],[3.0,2.7],[3.2,3.4],[3.4,3.0],[3.6,3.8],[3.9,3.6],[4.2,4.5],[4.4,4.1],[4.7,5.0],[4.9,4.6],[5.1,5.3],[0.2,-0.3],[-0.2,0.1],[1.9,2.9],[2.6,1.5],[3.1,2.2],[3.8,4.6],[1.1,2.3],[0.4,1.6],[0.0,0.0],[1.3,1.0],[2.3,2.0],[3.3,3.1],[4.3,4.2],
 [0.0,0.4],[0.3,0.6],[0.6,1.0],[0.9,1.2],[1.2,0.9],[1.4,1.9],[1.6,1.4],[1.8,2.1],[2.1,2.6],[2.3,1.8],[2.5,2.8],[2.8,2.5],[3.0,3.3],[3.3,2.9],[3.5,3.8],[3.7,3.3],[4.0,4.3],[4.3,4.7],[4.5,4.0],[4.8,5.2],[5.2,5.0],[5.6,5.9],[6.0,6.1],[-0.5,-0.1],[-0.4,0.3],[0.1,-0.5]];
const nStats=["0.95","0.93","276.74","329.43","416.89","465.83"];

const oTrain=[[-1.09,-1.04],[-1.1,-0.98],[-1.07,-0.85],[-1.1,-0.59],[-1.09,-0.2],[-0.98,-0.72],[-0.95,-0.29],[-0.92,-0.83],[-0.91,-0.89],[-0.9,-0.57],[-0.89,-0.67],[-0.84,-0.88],[-0.84,-0.77],[-0.8,-0.61],[-0.78,-0.51],[-0.75,-0.68],[-0.72,-0.21],[-0.71,-0.33],[-0.69,-0.56],[-0.66,-0.49],[-0.64,-0.62],[-0.6,-0.54],[-0.59,-0.17],[-0.58,-0.37],[-0.53,-0.29],[-0.51,-0.46],[-0.48,-0.22],[-0.46,-0.44],[-0.42,-0.02],[-0.4,-0.27],[-0.37,-0.39],[-0.35,-0.17],[-0.33,-0.1],[-0.31,-0.32],[-0.28,0.05],[-0.24,-0.22],[-0.22,-0.05],[-0.19,0.27],[-0.18,-0.44],[-0.15,-0.12],[-0.12,0.07],[-0.09,0.24],[-0.08,-0.29],[-0.04,-0.22],[-0.03,0.54],[-0.01,-0.39],[0.01,0.1],[0.03,-0.05],[0.06,0.2],[0.1,0.29],[0.13,0.07],[0.15,0.41],[0.17,-0.21],[0.21,0.24],[0.23,0.46],[0.24,0.1],[0.28,0.34],[0.3,0.2],[0.31,0.68],[0.33,0.39],[0.37,0.29],[0.39,0.17],[0.4,0.56],[0.42,0.05],[0.44,0.44],[0.48,0.02],[0.49,0.29],[0.52,0.13],[0.53,0.7],[0.55,0.51],[0.57,0.1],[0.59,0.29],[0.62,0.73],[0.64,0.88],[0.66,0.59],[0.67,0.44],[0.71,0.07],[0.71,0.85],[0.73,0.73],[0.75,0.56],[0.78,0.34],[0.82,0.46],[0.85,0.56],[0.87,1.08],[0.89,0.76],[0.91,0.66],[0.93,0.93],[0.94,0.15],[0.96,1.0],[1.0,0.8],[1.02,1.07],[1.05,0.93],[1.07,0.8],[1.16,0.62],[1.21,1.16],[1.21,1.05],[1.18,1.12],[-0.3,-0.05],[-0.1,-0.1],[0.05,0.0],[0.2,0.12],[0.35,0.36],
 [-0.5,-0.5],[-0.2,-0.2],[0.1,0.05],[0.4,0.4],[0.6,0.55],[0.8,0.8],[1.1,1.0],[-0.7,-0.7],[-0.9,-0.95],[0.7,0.6],[0.5,0.4],[0.3,0.0],[0.6,0.3]];
const oTest=[[-1.09,-1.02],[-1.07,-0.63],[-1.02,-0.95],[-0.91,-0.94],[-0.87,-0.88],[-0.87,-0.46],[-0.81,-0.63],[-0.8,-0.68],[-0.78,-0.56],[-0.74,-0.78],[-0.71,-0.38],[-0.6,-0.56],[-0.53,-0.44],[-0.51,0.04],[-0.49,-0.55],[-0.4,-0.07],[-0.39,-0.63],[-0.38,-0.44],[-0.37,-0.23],[-0.35,-0.49],[-0.33,-0.05],[-0.3,-0.12],[-0.27,0.4],[-0.26,0.07],[-0.22,-0.27],[-0.21,-0.41],[-0.22,-0.02],[-0.19,-0.1],[-0.17,0.05],[-0.15,-0.05],[-0.13,0.12],[-0.12,0],[-0.1,-0.1],[-0.08,0.2],[-0.07,0.21],[-0.06,0.05],[-0.04,-0.05],[-0.03,0.1],[-0.01,0.17],[-0.01,-0.57],[0.01,0],[0.03,0.1],[0.04,0.2],[0.06,-0.05],[0.08,0.07],[0.1,0.15],[0.12,0],[0.13,0.59],[0.13,0.22],[0.13,0.48],[0.17,0.1],[0.19,0.29],[0.21,-0.05],[0.24,0.2],[0.26,0.34],[0.28,0.07],[0.3,0.48],[0.31,0],[0.33,0.2],[0.35,-0.3],[0.37,0.37],[0.39,0.54],[0.4,0.13],[0.46,0.39],[0.49,0.32],[0.53,0.45],[0.6,0.51],[0.62,0.45],[0.64,0.66],[0.63,0.21],[0.64,0.04],[0.67,0.15],[0.67,0.39],[0.75,0.41],[0.78,0.34],[0.84,0.85],[0.87,0.93],[0.93,0.44],[0.96,0.26],[1.0,0.82],[1.05,1.01],[1.07,0.38],[1.07,0.11],[1.09,0.9],[1.09,1.1],[1.16,0.67],[1.21,0.88],[1.5,0.59],[-0.25,-0.1],[-0.18,0.0],[-0.05,-0.12],[0.0,0.08],[0.08,-0.1],[0.15,0.05],[0.22,0.15],[-0.14,-0.15],[-0.28,-0.18],[0.1,0.3],[0.25,0.1],
 [-0.2,-0.05],[-0.1,0.05],[0,-0.1],[0.05,0.15],[0.1,0.0],[0.2,0.2],[-0.3,0.05],[-0.15,0.15],[0.25,-0.02],[0.3,0.25],[0.35,0.1],[0.4,0.3],[-0.05,-0.15],[0.15,0.35],[0.45,0.2],[0.5,0.25],[0.55,0.35],[-0.25,-0.12],[0.0,0.25],[0.18,-0.08]];
const oStats=["0.84","0.71","6.37","7.50","11.44","15.76"];

// axis tick values and labels
const tE8=[-2,0,2,4,6,8], lE8=["-2.0","0.0","2.0","4.0","6.0","8.0"];
const tD15=[-1.5,-1,-0.5,0,0.5,1,1.5], lD15=["-1.5","-1.0","-0.5","0.0","0.5","1.0","1.5"];
const tD20=[-1.5,-1,-0.5,0,0.5,1,1.5,2], lD20=["-1.5","-1.0","-0.5","0.0","0.5","1.0","1.5","2.0"];
const tG8=[-6,-4,-2,0,2,4,6,8], lG8=["-6.0","-4.0","-2.0","0.0","2.0","4.0","6.0","8.0"];
const tH14=[-2,0,2,4,6,8,10,12,14], lH14=["-2.0","0.0","2.0","4.0","6.0","8.0","10.0","12.0","14.0"];
const tI08=[-0.8,-0.6,-0.4,-0.2,0,0.2,0.4,0.6,0.8], lI08=["-0.8","-0.6","-0.4","-0.2","0.0","0.2","0.4","0.6","0.8"];
const tJ3=[-5,-4,-3,-2,-1,0,1,2,3], lJ3=["-5.0","-4.0","-3.0","-2.0","-1.0","0.0","1.0","2.0","3.0"];
const tK8=[0,2,4,6,8], lK8=["0.0","2.0","4.0","6.0","8.0"];
const tL05=[-1,-0.75,-0.5,-0.25,0,0.25,0.5], lL05=["-1.0","-0.8","-0.5","-0.3","0.0","0.3","0.5"];

// ---------------- LAYOUT ----------------
const COLS=[82,512,943], ROWS=[27,514,1008,1498,1991], W=347, H=409;
const FONT='"Liberation Sans", Arial, Helvetica, sans-serif';
const SERIF='"Liberation Serif", "Times New Roman", serif';
const INK='#1a1a1a', BLUE='#1414f0', RED='#ff0000';

const T_ESS=(alpha,nb)=>[["E"],["SS","sub"],["("],["XY","it"],[alpha?"@α-Nb":"@Nb"],["5","sub"],["Si"],["3","sub"]].concat(nb?[["_Nb"],["II","sub"]]:[]).concat([[")"]]);
const T_EDS=(alpha,nb)=>[["E"],["DS","sub"],["("],["XY","it"],[alpha?"@α-Nb":"@Nb"],["5","sub"],["Si"],["3","sub"]].concat(nb?[["_Nb"],["II","sub"]]:[]).concat([[")"]]);
const T_DD=(alpha,nb)=>[["<Δd>("],["XY","it"],[alpha?"@α-Nb":"@Nb"],["5","sub"],["Si"],["3","sub"]].concat(nb?[["_Nb"],["II","sub"]]:[]).concat([[")"]]);

const panels=[
 {id:'a',r:0,c:0,dom:[-3,8],t:tE8,l:lE8,tr:aTrain,te:aTest,s:aStats,ti:T_ESS(0,0),u:'eV',gv:1,leg:[23,45,150,51],tt:[24,26],st:[128,235,305,235,314,297,333,362,390],sp:1,mr:4.8,ms:8.5},
 {id:'b',r:0,c:1,dom:[-2,8],t:tE8,l:lE8,tr:bTrain,te:bTest,s:bStats,ti:T_EDS(0,0),u:'eV',leg:[31,44,150,52],tt:[33,25],st:[127,233,302,232,293,298,333,361,389],sp:1,mr:4.8,ms:8.5},
 {id:'c',r:0,c:2,dom:[-1.5,1.5],t:tD15,l:lD15,tr:cTrain,te:cTest,s:cStats,ti:T_DD(0,0),u:'A',leg:[25,39,152,52],tt:[26,23],st:[140,258,314,255,310,300,335,364,391],sp:1,mr:4.8,ms:8.5},
 {id:'d',r:1,c:0,dom:[-2,8],t:tE8,l:lE8,tr:dTrain,te:dTest,s:dStats,ti:T_ESS(1,1),u:'eV',leg:[17,58,152,53],tt:[17,38],st:[130,238,309,244,309,298,335,365,393],sp:0,mr:4.4,ms:8},
 {id:'e',r:1,c:1,dom:[-2,8],t:tE8,l:lE8,tr:eTrain,te:eTest,s:eStats,ti:T_EDS(1,1),u:'eV',leg:[25,59,153,52],tt:[23,38],st:[133,240,310,243,303,309,339,364,389],sp:0,mr:4.4,ms:8,sqTest:1},
 {id:'f',r:1,c:2,dom:[-1.5,2],t:tD20,l:lD20,tr:fTrain,te:fTest,s:fStats,ti:T_DD(1,1),u:'A',leg:[14,54,152,53],tt:[15,36],st:[134,245,311,250,310,298,333,362,390],sp:0,mr:4.4,ms:8},
 {id:'g',r:2,c:0,dom:[-6,8],t:tG8,l:lG8,tr:gTrain,te:gTest,s:gStats,ti:T_ESS(1,0),u:'eV',leg:[38,56,152,53],tt:[35,35],st:[126,237,305,235,301,304,337,365,390],sp:1,mr:4.4,ms:8},
 {id:'h',r:2,c:1,dom:[-2,14],t:tH14,l:lH14,tr:hTrain,te:hTest,s:hStats,ti:T_EDS(1,0),u:'eV',leg:[36,60,153,53],tt:[35,35],st:[131,235,309,231,296,300,334,361,387],sp:1,mr:4.4,ms:8},
 {id:'i',r:2,c:2,dom:[-0.8,0.8],t:tI08,l:lI08,tr:iTrain,te:iTest,s:iStats,ti:T_DD(1,0),u:'A',leg:[32,48,153,53],tt:[32,27],st:[158,259,313,251,311,305,332,360,389],sp:0,mr:4.4,ms:8},
 {id:'j',r:3,c:0,dom:[-5,3],t:tJ3,l:lJ3,tr:jTrain,te:jTest,s:jStats,ti:T_ESS(1,0),u:'eV',leg:[36,59,149,53],tt:[33,37],st:[133,236,308,236,314,298,332,360,385],sp:1,mr:4.4,ms:8,serifL:1},
 {id:'k',r:3,c:1,dom:[-1,8],t:tK8,l:lK8,tr:kTrain,te:kTest,s:kStats,ti:T_EDS(1,0),u:'eV',leg:[36,59,163,51],tt:[33,37],st:[132,236,304,236,302,309,337,363,387],sp:1,mr:4.4,ms:8,serifL:1},
 {id:'l',r:3,c:2,dom:[-1,0.5],t:tL05,l:lL05,tr:lTrain,te:lTest,s:lStats,ti:T_DD(1,0),u:'A',leg:[34,53,163,52],tt:[32,35],st:[133,239,302,234,300,280,315,352,389],sp:1,mr:4.4,ms:8,serifL:1},
 {id:'m',r:4,c:0,dom:[-6,8],t:tG8,l:lG8,tr:mTrain,te:mTest,s:mStats,ti:T_ESS(1,0),u:'eV',leg:[15,53,196,60],tt:[16,38],st:[131,237,308,228,299,306,340,367,393],sp:0,mr:4.4,ms:8,serifL:1,set:1},
 {id:'n',r:4,c:1,dom:[-2,14],t:tH14,l:lH14,tr:nTrain,te:nTest,s:nStats,ti:T_EDS(1,0),u:'eV',leg:[25,53,198,60],tt:[23,38],st:[138,241,312,237,309,303,338,366,392],sp:0,mr:4.4,ms:8,serifL:1,set:1},
 {id:'o',r:4,c:2,dom:[-1.5,1.5],t:tD15,l:lD15,tr:oTrain,te:oTest,s:oStats,ti:T_DD(1,0),u:'A',leg:[14,53,197,59],tt:[15,36],st:[150,254,314,241,312,282,315,349,385],sp:0,mr:4.4,ms:8,serifL:1,set:1,boldR:1}
];

// ---------------- DRAW ----------------
const svg=d3.select('#c').attr('font-family',FONT);
const defs=svg.append('defs');
defs.append('filter').attr('id','halo').attr('x','-50%').attr('y','-50%').attr('width','200%').attr('height','200%')
  .append('feGaussianBlur').attr('stdDeviation',3);

function rich(sel,segs,size){
  let shift=0;
  segs.forEach(([t,st])=>{
    st=st||'';
    const ts=sel.append('tspan').text(t);
    const isSub=st.includes('sub'), isSup=st.includes('sup');
    const target=isSub?size*0.28:(isSup?-size*0.40:0);
    ts.attr('dy',(target-shift)+'px'); shift=target;
    if(isSub||isSup) ts.attr('font-size',size*0.68);
    if(st.includes('it')) ts.attr('font-style','italic');
    if(st.includes('serif')) ts.attr('font-family',SERIF);
    if(st.includes('bold')) ts.attr('font-weight','bold');
  });
}

function minorTicks(p){
  const s=p.t[1]-p.t[0], out=[];
  for(let v=p.dom[0]; v<=p.dom[1]+1e-9; v+=s/2){
    const r=Math.round(v*1e6)/1e6;
    if(!p.t.some(m=>Math.abs(m-r)<1e-6)) out.push(r);
  }
  return out;
}

function styleAxis(sel){
  sel.select('.domain').remove();
  sel.attr('font-size',24).attr('font-family',FONT).attr('color',INK);
  sel.selectAll('line').attr('stroke','#222').attr('stroke-width',1.3);
}

panels.forEach(p=>{
  const g=svg.append('g').attr('transform',`translate(${COLS[p.c]},${ROWS[p.r]})`);
  const x=d3.scaleLinear().domain(p.dom).range([0,W]);
  const y=d3.scaleLinear().domain(p.dom).range([H,0]);
  const lg=defs.append('linearGradient').attr('id','bg'+p.id)
    .attr('x1',0).attr('y1',p.gv?0:0.15).attr('x2',p.gv?0:1).attr('y2',1);
  (p.gv?[[0,'#ffffff'],[0.35,'#f8f8f8'],[1,'#d6d6d6']]:[[0,'#ffffff'],[0.45,'#f2f2f2'],[1,'#cfcfcf']])
    .forEach(([o,c])=>lg.append('stop').attr('offset',o).attr('stop-color',c));
  defs.append('clipPath').attr('id','cp'+p.id).append('rect').attr('width',W).attr('height',H);
  g.append('rect').attr('width',W).attr('height',H).attr('fill',`url(#bg${p.id})`);

  const pts=g.append('g').attr('clip-path',`url(#cp${p.id})`);
  const hs=p.ms/2;
  // soft bluish glow under the train markers (as in the reference)
  pts.append('g').attr('filter','url(#halo)').attr('opacity',0.35).selectAll('circle').data(p.tr).join('circle')
    .attr('cx',d=>x(d[0])).attr('cy',d=>y(d[1])).attr('r',7).attr('fill','#b8c4ff');
  pts.append('g').selectAll('rect').data(p.tr).join('rect')
    .attr('x',d=>x(d[0])-hs).attr('y',d=>y(d[1])-hs).attr('width',p.ms).attr('height',p.ms)
    .attr('fill','none').attr('stroke',BLUE).attr('stroke-width',1.25);
  if(p.sqTest){
    pts.append('g').selectAll('rect').data(p.te).join('rect')
      .attr('x',d=>x(d[0])-hs).attr('y',d=>y(d[1])-hs).attr('width',p.ms).attr('height',p.ms)
      .attr('fill',RED);
  } else {
    pts.append('g').selectAll('circle').data(p.te).join('circle')
      .attr('cx',d=>x(d[0])).attr('cy',d=>y(d[1])).attr('r',p.mr).attr('fill',RED);
  }
  g.append('line').attr('x1',x(p.dom[0])).attr('y1',y(p.dom[0])).attr('x2',x(p.dom[1])).attr('y2',y(p.dom[1]))
    .attr('stroke','#333').attr('stroke-width',0.9);

  const mn=minorTicks(p);
  g.append('g').attr('transform',`translate(0,${H})`)
    .call(d3.axisBottom(x).tickValues(p.t).tickSize(-8).tickSizeOuter(0).tickPadding(9).tickFormat((d,i)=>p.l[i]))
    .call(styleAxis);
  g.append('g').attr('transform',`translate(0,${H})`)
    .call(d3.axisBottom(x).tickValues(mn).tickSize(-5).tickSizeOuter(0).tickFormat('')).call(styleAxis);
  g.append('g')
    .call(d3.axisLeft(y).tickValues(p.t).tickSize(-8).tickSizeOuter(0).tickPadding(6).tickFormat((d,i)=>p.l[i]))
    .call(styleAxis);
  g.append('g').call(d3.axisLeft(y).tickValues(mn).tickSize(-5).tickSizeOuter(0).tickFormat('')).call(styleAxis);
  g.append('g').call(d3.axisTop(x).tickValues(p.t).tickSize(-8).tickSizeOuter(0).tickFormat('')).call(styleAxis);
  g.append('g').call(d3.axisTop(x).tickValues(mn).tickSize(-5).tickSizeOuter(0).tickFormat('')).call(styleAxis);
  g.append('g').attr('transform',`translate(${W},0)`).call(d3.axisRight(y).tickValues(p.t).tickSize(-8).tickSizeOuter(0).tickFormat('')).call(styleAxis);
  g.append('g').attr('transform',`translate(${W},0)`).call(d3.axisRight(y).tickValues(mn).tickSize(-5).tickSizeOuter(0).tickFormat('')).call(styleAxis);

  g.append('rect').attr('width',W).attr('height',H).attr('fill','none').attr('stroke','#2a2a2a').attr('stroke-width',1.6);

  const xt=g.append('text').attr('x',W/2).attr('y',H+57).attr('text-anchor','middle').attr('font-size',25).attr('fill',INK);
  rich(xt, p.u==='A'?[["DFT"],["(Å)","serif bold"]]:[["DFT(eV)"]], 25);
  const yt=g.append('text').attr('transform',`translate(-55,${H/2}) rotate(-90)`).attr('text-anchor','middle').attr('font-size',25).attr('fill',INK);
  rich(yt, p.u==='A'?[["ML"],["(Å)","serif bold"]]:[["ML(eV)"]], 25);

  g.append('text').attr('x',-74).attr('y',8).attr('font-size',p.serifL?42:38).attr('font-weight','bold')
    .attr('font-family',p.serifL?SERIF:FONT).attr('fill','#000').text(p.id);

  const tt=g.append('text').attr('x',p.tt[0]).attr('y',p.tt[1]+7.5).attr('font-size',22).attr('fill',INK);
  rich(tt,p.ti,22);

  const [lx,ly,lw,lh]=p.leg;
  g.append('rect').attr('x',lx).attr('y',ly).attr('width',lw).attr('height',lh)
    .attr('fill','rgba(255,255,255,0.35)').attr('stroke','#333').attr('stroke-width',1.3);
  const big=lh>56, r1=ly+(big?16:13), r2=ly+(big?44:39);
  g.append('rect').attr('x',lx+19-4).attr('y',r1-4).attr('width',8).attr('height',8)
    .attr('fill','none').attr('stroke',BLUE).attr('stroke-width',1.25);
  g.append('circle').attr('cx',lx+19).attr('cy',r2).attr('r',5).attr('fill',RED);
  g.append('text').attr('x',lx+44).attr('y',r1+7.5).attr('font-size',21).attr('fill',INK).text(p.set?'SVR: TrainSet':'SVR: Train');
  g.append('text').attr('x',lx+44).attr('y',r2+7.5).attr('font-size',21).attr('fill',INK).text(p.set?'SVR: TestSet':'SVR: Test');

  const [L,T,S,hT,hS,y0,y1,y2,y3]=p.st, fs=20.5, bo=7.2;
  const tx=(xx,yy,str)=>g.append('text').attr('x',xx).attr('y',yy+bo).attr('text-anchor','middle').attr('font-size',fs).attr('fill',INK).text(str);
  tx(hT,y0,'Train'); tx(hS,y0,'Test');
  const r2t=g.append('text').attr('x',L).attr('y',y1+bo).attr('text-anchor','middle').attr('font-size',fs).attr('fill',INK);
  if(p.boldR) r2t.attr('font-weight','bold');
  rich(r2t,p.sp?[["<R"],["2","sup"],[" >"]]:[["<R"],["2","sup"],[">"]],fs);
  const maeT=g.append('text').attr('x',L).attr('y',y2+bo).attr('text-anchor','middle').attr('font-size',fs).attr('fill',INK);
  const rmT=g.append('text').attr('x',L).attr('y',y3+bo).attr('text-anchor','middle').attr('font-size',fs).attr('fill',INK);
  if(p.u==='A'){
    rich(maeT,[["<MAE>"],["(10","serif"],["-2","sup serif"],["Å)","serif"]],fs);
    rich(rmT,[["<RMSE>"],["(10","serif"],["-2","sup serif"],["Å)","serif"]],fs);
  } else {
    rich(maeT,[["<MAE>(meV)"]],fs);
    rich(rmT,[["<RMSE>(meV)"]],fs);
  }
  tx(T,y1,p.s[0]); tx(S,y1,p.s[1]);
  tx(T,y2,p.s[2]); tx(S,y2,p.s[3]);
  tx(T,y3,p.s[4]); tx(S,y3,p.s[5]);
});
</script></body></html>
